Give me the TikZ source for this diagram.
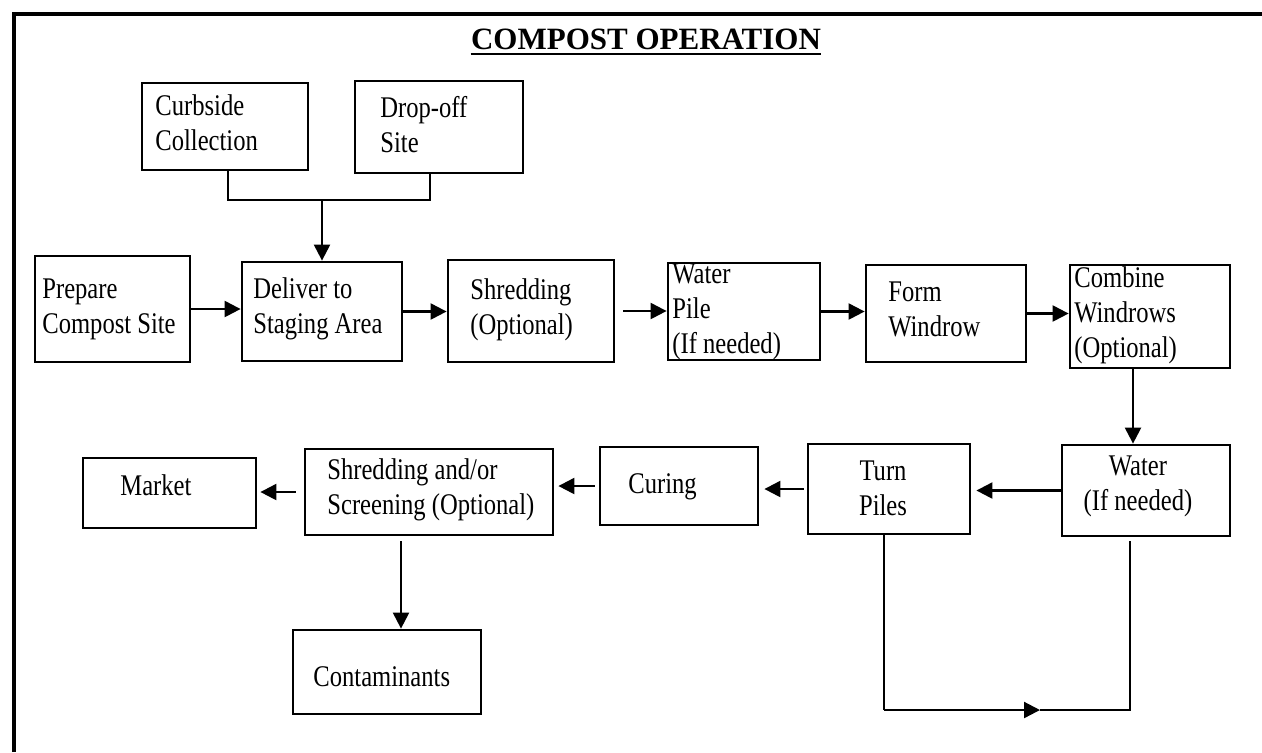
\documentclass[tikz,border=0pt]{standalone}
\usepackage{fontspec}
\setmainfont{Liberation Serif}
\newfontfamily\narrowserif[FakeStretch=0.82]{Liberation Serif}
\usetikzlibrary{arrows.meta}
\newcommand\mkbox[5]{\node[box, minimum width={(#4-#2)*0.5pt}, minimum height={(#5-#3)*0.5pt}] (#1) at ({(#2+#4)/2},{(#3+#5)/2}) {};}
\tikzset{
  box/.style={draw, line width=1.4pt, inner sep=0pt},
  lbl/.style={inner sep=0pt, align=left, font=\narrowserif\fontsize{15}{17.5}\selectfont},
  lblc/.style={lbl, align=center},
  ln/.style={line width=1.1pt},
  arr/.style={ln, -{Triangle[length=8pt,width=8pt]}},
}
\begin{document}
\begin{tikzpicture}[x=0.5pt,y=-0.5pt]
\useasboundingbox (0,0) rectangle (1262,752);
% frame
\draw[line width=1.6pt] (14,752) -- (14,14) -- (1262,14);
% title
\node[inner sep=0pt, anchor=base, font=\bfseries\fontsize{15.5}{18}\selectfont] (title) at (646,49) {COMPOST OPERATION};
\draw[line width=1.1pt] ([yshift=-2.5pt]title.base west) -- ([yshift=-2.5pt]title.base east);
% boxes
\mkbox{cur}{142}{83}{308}{170}
\mkbox{drop}{355}{81}{523}{173}
\mkbox{prep}{35}{256}{190}{362}
\mkbox{del}{242}{262}{402}{361}
\mkbox{shr}{448}{260}{614}{362}
\mkbox{wpile}{668}{263}{820}{360}
\mkbox{form}{866}{265}{1026}{362}
\mkbox{comb}{1070}{265}{1230}{368}
\mkbox{wat}{1062}{445}{1230}{536}
\mkbox{turn}{808}{444}{970}{534}
\mkbox{cur2}{600}{447}{758}{525}
\mkbox{scr}{305}{449}{553}{535}
\mkbox{mkt}{83}{458}{256}{528}
\mkbox{cont}{293}{630}{481}{714}
% texts
\node[lbl, anchor=west] (tcur) at (155,123) {Curbside\\Collection};
\node[lbl, anchor=west] (tdrop) at (380,125) {Drop-off\\Site};
\node[lbl, anchor=west] (tprep) at (42,309) {Prepare\\Compost Site};
\node[lbl, anchor=west] (tdel) at (253,309) {Deliver to\\Staging Area};
\node[lbl, anchor=west] (tshr) at (470,310) {Shredding\\(Optional)};
\node[lbl, anchor=west] (twpile) at (672,312) {Water\\Pile\\(If needed)};
\node[lbl, anchor=west] (tform) at (888,309) {Form\\Windrow};
\node[lbl, anchor=west] (tcomb) at (1074,315) {Combine\\Windrows\\(Optional)};
\node[lblc] (twat) at (1138,486) {Water\\(If needed)};
\node[lblc] (tturn) at (883,488) {Turn\\Piles};
\node[lbl, anchor=west] (tcur2) at (628,487) {Curing};
\node[lbl, anchor=west] (tscr) at (327,490) {Shredding and/or\\Screening (Optional)};
\node[lbl, anchor=west] (tmkt) at (120,485) {Market};
\node[lbl, anchor=west] (tcont) at (313,677) {Contaminants};
% connectors
\coordinate (j1) at (228,200);
\coordinate (j2) at (430,200);
\coordinate (j3) at (322,200);
\draw[ln] (cur.south -| j1) -- (j1) -- (j2) -- (drop.south -| j2);
\draw[arr] (j3) -- (del.north -| j3);
\draw[arr] (prep.east) -- (prep.east -| del.west);
\draw[arr] (del.east) -- (del.east -| shr.west);
\draw[arr, shorten <=4pt] (shr.east) -- (shr.east -| wpile.west);
\draw[arr] (wpile.east) -- (wpile.east -| form.west);
\draw[arr] (form.east) -- (form.east -| comb.west);
\coordinate (cw) at (1133,400);
\draw[arr] (comb.south -| cw) -- (wat.north -| cw);
\draw[arr, shorten >=2.5pt] (wat.west) -- (wat.west -| turn.east);
\draw[arr, shorten <=1.5pt, shorten >=2.5pt] (turn.west) -- (turn.west -| cur2.east);
\draw[arr, shorten <=2pt, shorten >=2pt] (cur2.west) -- (cur2.west -| scr.east);
\draw[arr, shorten <=4pt, shorten >=1.5pt] (scr.west) -- (scr.west -| mkt.east);
\coordinate (cc) at (401,600);
\draw[arr, shorten <=2.5pt] (scr.south -| cc) -- (cont.north -| cc);
\coordinate (l1) at (884,710);
\coordinate (l2) at (1040,710);
\coordinate (l3) at (1130,710);
\draw[ln] (turn.south -| l1) -- (l1);
\draw[arr] (l1) -- (l2);
\draw[ln, shorten <=2pt] (wat.south -| l3) -- (l3) -- (l2);
\end{tikzpicture}
\end{document}
